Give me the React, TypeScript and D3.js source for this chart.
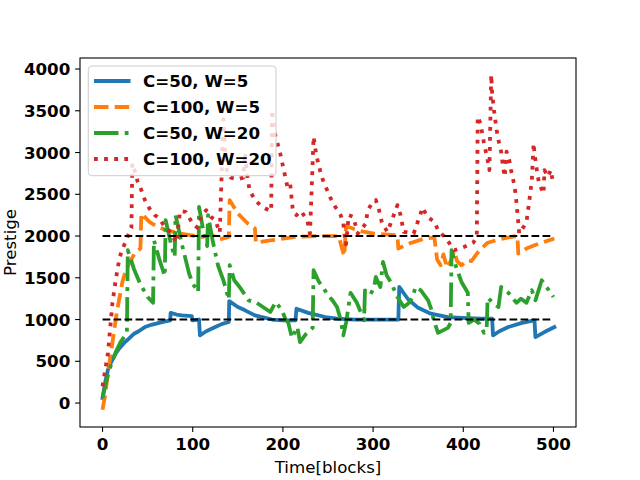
import React from "react";
import * as d3 from "d3";

const blueX = [0, 3, 6, 10, 15, 19, 24, 28, 35, 40, 47, 55, 66, 75, 75.5, 82, 88, 99, 99.5, 107, 108, 115, 125, 132, 140, 140.5, 150, 158, 169, 177, 188, 200, 214, 215, 228, 247, 260, 280, 300, 328, 329, 339, 350, 364, 383, 398, 420, 432, 433, 440, 450, 465, 479, 480, 490, 501];
const blueY = [60, 250, 400, 500, 600, 660, 720, 760, 830, 860, 910, 940, 970, 990, 1080, 1060, 1050, 1040, 990, 1000, 810, 860, 910, 945, 970, 1220, 1150, 1110, 1050, 1030, 1000, 990, 990, 1130, 1080, 1030, 1010, 1000, 1000, 1000, 1390, 1240, 1140, 1070, 1030, 1020, 1010, 1010, 810, 860, 910, 960, 990, 790, 850, 910];

const orangeX = [0, 3, 6, 8, 12, 16, 22, 26, 30, 36, 42, 43, 52, 61, 71, 86, 97, 110, 120, 130, 140, 141, 150, 161, 169, 170, 188, 214, 240, 262, 265, 268, 270, 285, 301, 327, 328, 340, 357, 368, 371, 375, 378, 382, 386, 390, 393, 398, 405, 409, 418, 427, 440, 453, 460, 461, 470, 479, 490, 501];
const orangeY = [-80, 100, 350, 510, 800, 1100, 1450, 1600, 1680, 1800, 1850, 2270, 2170, 2110, 2070, 2030, 2010, 1990, 2020, 1960, 1990, 2430, 2270, 2150, 2090, 1920, 1950, 1990, 2000, 2000, 1870, 1760, 2120, 2060, 2030, 2010, 1850, 1910, 1970, 1980, 1720, 1650, 1780, 1620, 1700, 1820, 1700, 1650, 1710, 1700, 1830, 1920, 1960, 1990, 2000, 1790, 1850, 1890, 1930, 1970];

const greenX = [0, 5, 10, 15, 20, 27, 28, 35, 42, 50, 56, 57, 63, 69, 70, 76, 80, 81, 88, 96, 100, 106, 107, 112, 116, 117, 122, 128, 134, 140, 141, 146, 152, 162, 171, 186, 192, 199, 203, 206, 208, 210, 216, 219, 225, 233, 234, 240, 245, 250, 255, 260, 264, 267, 270, 275, 282, 290, 291, 297, 301, 303, 308, 311, 315, 320, 327, 334, 340, 344, 347, 353, 361, 365, 367, 372, 383, 386, 387, 392, 398, 405, 406, 412, 418, 423, 426, 427, 433, 439, 442, 450, 459, 464, 470, 476, 480, 487, 493, 500];
const greenY = [60, 300, 480, 620, 730, 840, 1830, 1600, 1420, 1270, 1200, 1950, 1720, 1520, 2190, 1900, 1750, 2250, 1900, 1550, 1430, 1330, 2350, 2050, 1880, 2250, 1950, 1650, 1470, 1240, 1650, 1470, 1390, 1230, 1200, 1090, 1210, 1110, 1000, 960, 870, 780, 910, 730, 820, 900, 1590, 1450, 1380, 1290, 1230, 1150, 1000, 810, 960, 1320, 1200, 990, 1350, 1300, 1380, 1510, 1390, 1690, 1530, 1440, 1270, 1150, 1200, 1270, 1390, 1350, 1230, 1110, 1000, 840, 900, 960, 1830, 1630, 1450, 1320, 960, 1000, 950, 840, 900, 1260, 1200, 1150, 1390, 1320, 1200, 1250, 1200, 1350, 1230, 1470, 1380, 1270];

const redX = [0, 3, 6, 11, 15, 19, 26, 32, 33, 36, 39, 43, 47, 52, 58, 63, 69, 75, 82, 86, 92, 100, 105, 110, 115, 120, 125, 130, 134, 136, 138, 142, 150, 156, 158, 160, 163, 169, 177, 184, 187, 188, 190, 197, 205, 208, 211, 215, 220, 227, 230, 232, 234, 237, 242, 245, 249, 253, 258, 264, 267, 269, 270, 273, 278, 283, 292, 294, 300, 303, 306, 310, 316, 327, 330, 334, 345, 355, 360, 368, 372, 381, 390, 401, 411, 415, 416, 419, 423, 427, 429, 431, 432, 434, 437, 439, 442, 444, 446, 448, 451, 453, 457, 459, 461, 462, 470, 473, 476, 478, 479, 481, 484, 489, 490, 494, 497, 500];
const redY = [200, 400, 600, 1200, 1500, 1750, 1950, 2100, 2870, 2770, 2650, 2550, 2430, 2330, 2250, 2210, 2110, 2050, 1920, 2300, 2290, 2150, 2100, 2250, 2310, 2230, 2190, 2040, 3400, 3000, 2770, 2700, 2680, 2700, 3000, 2750, 2550, 2430, 2350, 2310, 2300, 3510, 3270, 2990, 2590, 2630, 2310, 2250, 2300, 2190, 2030, 2590, 3190, 2970, 2750, 2650, 2550, 2450, 2350, 2250, 2150, 1950, 1900, 2250, 2230, 2030, 2150, 2310, 2410, 2430, 2340, 2150, 2050, 2370, 2270, 2050, 2030, 2340, 2230, 2170, 2070, 1970, 1830, 1870, 1920, 1990, 3430, 3350, 3110, 2910, 2790, 3930, 3710, 3510, 3270, 3150, 3010, 2830, 2710, 3010, 2910, 2790, 2590, 2400, 2160, 2030, 2160, 2400, 2670, 3110, 2990, 2830, 2630, 2510, 2790, 2710, 2790, 2610];

const refLevels = [1000, 2000];
const refRange = [0, 500];
const xTicks = [0, 100, 200, 300, 400, 500];
const yTicks = [0, 500, 1000, 1500, 2000, 2500, 3000, 3500, 4000];
const labels = ["C=50, W=5", "C=100, W=5", "C=50, W=20", "C=100, W=20"];

const colors = ["#1f77b4", "#ff7f0e", "#2ca02c", "#d62728"];
const dashes = ["none", "14.5,6.2", "24.5,6.2,3.8,6.2", "3.8,6.3"];
const LW = 3.8;
const FONT = "DejaVu Sans";
const FS = 16.67;

export default function App() {
  const L = 80, R = 576, T = 58, B = 427;
  const x = d3.scaleLinear().domain([-25, 525]).range([L, R]);
  const y = d3.scaleLinear().domain([-287, 4132]).range([B, T]);
  const series = [
    [blueX, blueY],
    [orangeX, orangeY],
    [greenX, greenY],
    [redX, redY],
  ];
  const line = d3
    .line<number>()
    .x((d) => d);
  const paths = series.map(([xs, ys]) => {
    const pts: [number, number][] = xs.map((v, i) => [x(v), y(ys[i])]);
    return d3.line()(pts) || "";
  });
  void line;
  const legendRows = [81, 107, 133, 159];
  return (
    <svg
      width={640}
      height={480}
      style={{ position: "absolute", left: 0, top: 0, background: "#fff" }}
      fontFamily={FONT}
    >
      <rect x={0} y={0} width={640} height={480} fill="#fff" />
      <defs>
        <clipPath id="plot">
          <rect x={L} y={T} width={R - L} height={B - T} />
        </clipPath>
      </defs>
      <g clipPath="url(#plot)">
        {paths.map((p, i) => (
          <path
            key={i}
            d={p}
            fill="none"
            stroke={colors[i]}
            strokeWidth={LW}
            strokeDasharray={dashes[i]}
            strokeLinejoin="round"
            strokeLinecap={i === 0 ? "square" : "butt"}
          />
        ))}
        {refLevels.map((lv) => (
          <line
            key={lv}
            x1={x(refRange[0])}
            x2={x(refRange[1])}
            y1={y(lv)}
            y2={y(lv)}
            stroke="#000"
            strokeWidth={2.1}
            strokeDasharray="7.7,3.3"
          />
        ))}
      </g>
      <rect x={L} y={T} width={R - L} height={B - T} fill="none" stroke="#000" strokeWidth={1.1} />
      {xTicks.map((t) => (
        <g key={t}>
          <line x1={x(t)} x2={x(t)} y1={B} y2={B + 4.9} stroke="#000" strokeWidth={1.1} />
          <text x={x(t)} y={B + 22.5} textAnchor="middle" fontSize={FS} fontWeight="bold">
            {t}
          </text>
        </g>
      ))}
      {yTicks.map((t) => (
        <g key={t}>
          <line x1={L - 4.9} x2={L} y1={y(t)} y2={y(t)} stroke="#000" strokeWidth={1.1} />
          <text x={L - 9.7} y={y(t)} dy="0.36em" textAnchor="end" fontSize={FS} fontWeight="bold">
            {t}
          </text>
        </g>
      ))}
      <text x={(L + R) / 2} y={473} textAnchor="middle" fontSize={FS}>
        Time[blocks]
      </text>
      <text
        transform={`translate(${15.5},${(T + B) / 2}) rotate(-90)`}
        textAnchor="middle"
        fontSize={FS}
      >
        Prestige
      </text>
      <g>
        <rect
          x={88.3}
          y={66}
          width={187.7}
          height={109.7}
          rx={3.5}
          fill="#fff"
          fillOpacity={0.8}
          stroke="#cccccc"
          strokeWidth={1}
        />
        {labels.map((lab, i) => (
          <g key={lab}>
            <line
              x1={94}
              x2={130.5}
              y1={legendRows[i]}
              y2={legendRows[i]}
              stroke={colors[i]}
              strokeWidth={LW}
              strokeDasharray={dashes[i]}
              strokeLinecap="butt"
            />
            <text x={143} y={legendRows[i]} dy="0.36em" fontSize={FS} fontWeight="bold">
              {lab}
            </text>
          </g>
        ))}
      </g>
    </svg>
  );
}
